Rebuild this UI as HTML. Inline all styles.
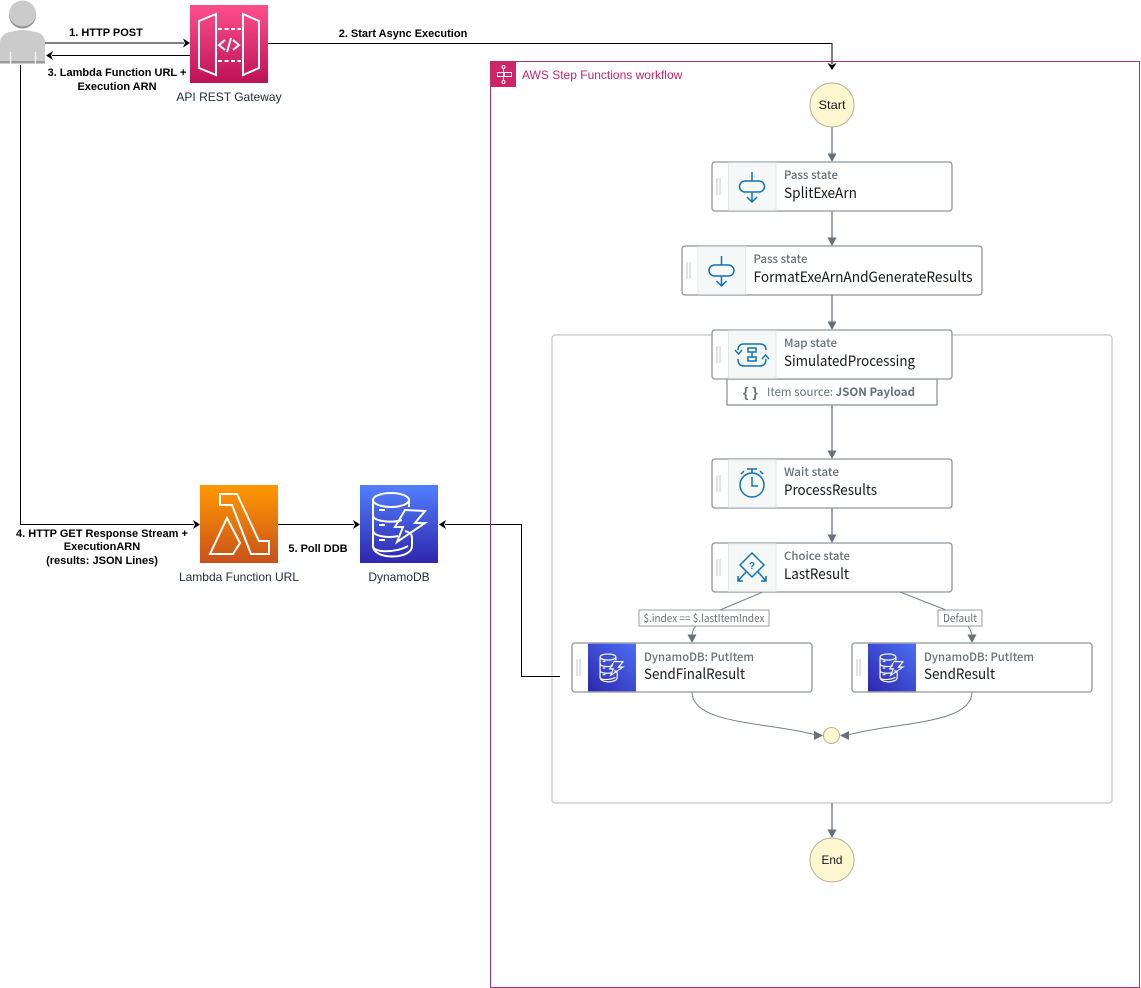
<!DOCTYPE html>
<html><head><meta charset="utf-8"><title>Step Functions diagram</title>
<style>
html,body{margin:0;padding:0;background:#fff;width:1141px;height:988px;overflow:hidden}
svg{display:block}
text{font-family:"Liberation Sans",sans-serif}
.b{font-size:11px;font-weight:bold;fill:#000;text-anchor:middle}
.c{font-size:12px;fill:#232f3e;text-anchor:middle}
.k{font-family:"Noto Sans CJK JP","DejaVu Sans",sans-serif;font-size:11.5px;font-weight:500;fill:#687078}
.n{font-family:"Noto Sans CJK JP","DejaVu Sans",sans-serif;font-size:14.5px;fill:#16191f}
.e{font-family:"Noto Sans CJK JP","DejaVu Sans",sans-serif;font-size:10.5px;fill:#687078;text-anchor:middle}
.s{fill:#fff;stroke:#8f959c;stroke-width:1.3}
.p{fill:#f6f7f7;stroke:#e4e6e8;stroke-width:1}
.g{stroke:#c2c5c8;stroke-width:1.2;fill:none}
.l{stroke:#000;stroke-width:1;fill:none}
.f{stroke:#a0a4a8;stroke-width:2;fill:none}
.t{stroke:#79808a;stroke-width:1;fill:none}
.h{fill:#687078}
.ic{fill:none;stroke:#0f73bb;stroke-width:1.5}
.w{fill:none;stroke:#fff;stroke-width:2}
</style></head><body>
<svg width="1141" height="988" viewBox="0 0 1141 988" xmlns="http://www.w3.org/2000/svg">
<defs>
<linearGradient id="gw" x1="0" y1="1" x2="0" y2="0"><stop offset="0" stop-color="#bc1356"/><stop offset="1" stop-color="#ff4f8b"/></linearGradient>
<linearGradient id="la" x1="0" y1="1" x2="0" y2="0"><stop offset="0" stop-color="#c8511b"/><stop offset="1" stop-color="#f90"/></linearGradient>
<linearGradient id="db" x1="0" y1="1" x2="0" y2="0"><stop offset="0" stop-color="#2e27ad"/><stop offset="1" stop-color="#527fff"/></linearGradient>
<linearGradient id="db2" x1="0" y1="1" x2="1" y2="0"><stop offset="0" stop-color="#2e27ad"/><stop offset="1" stop-color="#4a70f5"/></linearGradient>
<g id="pass"><rect class="ic" x="-12.500" y="-6" width="25" height="11" rx="5.500"/><path class="ic" d="M0-15V-6M0 5V15M-5 10L0 15 5 10"/></g>
<g id="ddbi" fill="none" stroke="#fff">
<ellipse cx="391" cy="500" rx="18" ry="7"/>
<path d="M373 500V546C373 560 412 560 412 546V538C412 533 408 532 405 531M373 515C373 522 393 523 402 520M373 530C373 537 390 538 398 536M373 546C373 553 396 553 408 546M409 500V507"/>
<path d="M405 510L425 511 415 523H425L397 542 403 527H395Z"/>
<path d="M379 510H385M379 525H385M379 540H385"/>
</g>
</defs>

<!-- user -->
<ellipse cx="22.500" cy="15" rx="13.500" ry="13.500" fill="#8f8f8f"/>
<ellipse cx="22.500" cy="13.500" rx="13.500" ry="13" fill="#cbcbcb"/>
<path d="M0 63V43Q0 33 12 31.500Q18 30 22.500 30Q27 30 33 31.500Q45 33 45 43V63Z" fill="#cbcbcb"/>
<rect x="0" y="61" width="45" height="2.500" fill="#9b9b9b"/>
<path d="M10.500 52V64M35.500 52V64" stroke="#fff" stroke-width="1.200"/>

<!-- workflow frame -->
<rect x="490.500" y="61.500" width="649" height="926" fill="#fff" stroke="#b5306f" stroke-width="1"/>
<rect x="491" y="62" width="25" height="25" fill="#cf2467"/>
<g fill="none" stroke="#fff" stroke-width="1"><rect x="497.500" y="72.500" width="6" height="4"/><rect x="504.500" y="72.500" width="7" height="4"/><circle cx="503.500" cy="67" r="1.500"/><circle cx="503.500" cy="82" r="1.500"/><path d="M503.500 68.500V72M503.500 77V80.500"/></g>
<text x="522" y="79" font-size="12" fill="#c4246d">AWS Step Functions workflow</text>

<!-- map container -->
<rect x="552" y="335" width="560" height="468" rx="3" fill="#fff" class="g"/>

<!-- flow connectors -->
<path class="f" d="M832 127V155M832 211V239M832 295V323M832 405V452M832 508V536M832 803V832"/>
<g class="h">
<path d="M827.500 153.500H836.500L832 162Z"/><path d="M827.500 237.500H836.500L832 246Z"/><path d="M827.500 321.500H836.500L832 330Z"/><path d="M827.500 450.500H836.500L832 459Z"/><path d="M827.500 534.500H836.500L832 543Z"/><path d="M827.500 829.500H836.500L832 838Z"/>
<path d="M687.500 634.500H696.500L692 643Z"/><path d="M967.500 634.500H976.500L972 643Z"/>
<path d="M814 731L823 735.500L814 740Z"/><path d="M849 731L840 735.500L849 740Z"/>
</g>
<path class="t" d="M763 592L720 610M696 626Q692 630 692 636M900 592L946 610M968 626Q971 630 972 636"/>
<path class="t" d="M692 692C692 725 770 722 816 735M972 692C972 725 893 722 848 735"/>

<!-- states -->
<rect class="s" x="712" y="162" width="240" height="49" rx="3"/><rect class="p" x="728.500" y="162.700" width="47.500" height="47.600"/>
<use href="#pass" x="752" y="187"/>
<text class="k" x="784" y="179" textLength="54" lengthAdjust="spacingAndGlyphs">Pass state</text><text class="n" x="784" y="198" textLength="73" lengthAdjust="spacingAndGlyphs">SplitExeArn</text>

<rect class="s" x="682" y="246" width="300" height="49" rx="3"/><rect class="p" x="698" y="246.700" width="47.500" height="47.600"/>
<use href="#pass" x="721.500" y="271"/>
<text class="k" x="753.500" y="263" textLength="54" lengthAdjust="spacingAndGlyphs">Pass state</text><text class="n" x="753.500" y="282" textLength="219" lengthAdjust="spacingAndGlyphs">FormatExeArnAndGenerateResults</text>

<rect class="s" x="727" y="379" width="210" height="26"/>
<text x="743" y="397" font-size="14" font-weight="bold" fill="#687078">{ }</text>
<text class="k" x="767" y="396" style="font-weight:400" textLength="148" lengthAdjust="spacingAndGlyphs">Item source: <tspan font-weight="bold">JSON Payload</tspan></text>

<rect class="s" x="712" y="330" width="240" height="49" rx="3"/><rect class="p" x="728.500" y="330.700" width="47.500" height="47.600"/>
<g class="ic"><path d="M738 350Q738 344 744 344H760Q766 344 766 350M766 359Q766 366 760 366H744Q738 366 738 359"/><path d="M735 350L738.500 354 742 350M762 359L765.500 355 769 359"/><rect x="748" y="348" width="8" height="4"/><rect x="748" y="357" width="8" height="4"/><path d="M752 352V357"/></g>
<text class="k" x="784" y="347" textLength="53" lengthAdjust="spacingAndGlyphs">Map state</text><text class="n" x="784" y="366" textLength="131" lengthAdjust="spacingAndGlyphs">SimulatedProcessing</text>

<rect class="s" x="712" y="459" width="240" height="49" rx="3"/><rect class="p" x="728.500" y="459.700" width="47.500" height="47.600"/>
<g class="ic"><circle cx="752" cy="485" r="12"/><path d="M752 477V486H758M752 473V469M747 469H757M741 474L744 471M763 474L760 471"/></g>
<text class="k" x="784" y="476" textLength="55" lengthAdjust="spacingAndGlyphs">Wait state</text><text class="n" x="784" y="495" textLength="93" lengthAdjust="spacingAndGlyphs">ProcessResults</text>

<rect class="s" x="712" y="543" width="240" height="49" rx="3"/><rect class="p" x="728.500" y="543.700" width="47.500" height="47.600"/>
<g class="ic"><path d="M752 553L764 565 752 577 740 565Z"/><path d="M746 572L738 581M738 576V581H743M758 572L766 581M766 576V581H761"/></g>
<text x="752" y="569" font-size="10" font-weight="bold" fill="#0f73bb" text-anchor="middle">?</text>
<text class="k" x="784" y="560" textLength="66" lengthAdjust="spacingAndGlyphs">Choice state</text><text class="n" x="784" y="579" textLength="65" lengthAdjust="spacingAndGlyphs">LastResult</text>

<rect class="s" x="572" y="643" width="240" height="49" rx="3"/><rect x="588" y="643.700" width="48" height="47.600" fill="url(#db2)"/>
<use href="#ddbi" transform="translate(611.500 668) scale(.44) translate(-399 -525)" stroke-width="2.700"/>
<text class="k" x="644" y="661" textLength="110" lengthAdjust="spacingAndGlyphs">DynamoDB: PutItem</text><text class="n" x="644" y="679" textLength="101" lengthAdjust="spacingAndGlyphs">SendFinalResult</text>

<rect class="s" x="852" y="643" width="240" height="49" rx="3"/><rect x="868" y="643.700" width="48" height="47.600" fill="url(#db2)"/>
<use href="#ddbi" transform="translate(891.500 668) scale(.44) translate(-399 -525)" stroke-width="2.700"/>
<text class="k" x="924" y="661" textLength="110" lengthAdjust="spacingAndGlyphs">DynamoDB: PutItem</text><text class="n" x="924" y="679" textLength="71" lengthAdjust="spacingAndGlyphs">SendResult</text>

<!-- drag handles -->
<path d="M717 178V195M720 178V195M687 262V279M690 262V279M717 346V363M720 346V363M717 475V492M720 475V492M717 559V576M720 559V576M577 659V676M580 659V676M857 659V676M860 659V676" stroke="#c4c7ca" stroke-width="1" fill="none"/>

<!-- edge labels -->
<rect x="639" y="610" width="130" height="16" fill="#fff" stroke="#9a9ea3"/>
<text class="e" x="704" y="622" textLength="121" lengthAdjust="spacingAndGlyphs">$.index == $.lastItemIndex</text>
<rect x="938" y="610" width="44" height="16" fill="#fff" stroke="#9a9ea3"/>
<text class="e" x="960" y="622" textLength="34" lengthAdjust="spacingAndGlyphs">Default</text>

<!-- terminals -->
<circle cx="832" cy="105" r="22" fill="#fff7cf" stroke="#b5b39b"/>
<text x="832" y="109" font-size="12" font-weight="500" text-anchor="middle" fill="#16191f" font-family="Noto Sans CJK JP, sans-serif" textLength="27" lengthAdjust="spacingAndGlyphs">Start</text>
<circle cx="832" cy="860" r="22" fill="#fff7cf" stroke="#b5b39b"/>
<text x="832" y="864" font-size="12" text-anchor="middle" fill="#16191f" font-family="Noto Sans CJK JP, sans-serif" textLength="21" lengthAdjust="spacingAndGlyphs">End</text>
<circle cx="831.500" cy="735.500" r="8" fill="#fff7cf" stroke="#b5b39b"/>

<!-- gateway -->
<rect x="190" y="5" width="78" height="78" fill="url(#gw)"/>
<g class="w"><path d="M199 21L216 14V75L199 68ZM259 21L243 14V75L259 68Z"/><path d="M218 29H241M218 61H241" stroke-dasharray="4 2.500"/><path d="M225 40L219 45 225 50M233 40L239 45 233 50M231 38L227 52"/></g>

<!-- lambda -->
<rect x="200" y="485" width="78" height="78" fill="url(#la)"/>
<path class="w" d="M220 494H237L259 541H269V554H251L232 505H220ZM227 518L240 543 233 554H210Z"/>

<!-- dynamo -->
<rect x="360" y="485" width="78" height="78" fill="url(#db)"/>
<use href="#ddbi" stroke-width="2"/>

<!-- black connectors -->
<path d="M45 43H184" stroke="#333" stroke-width="1.200" fill="none"/><path d="M183 38.500L190 43 183 47.500 185 43Z"/>
<path class="l" d="M190 55.500H52"/><path d="M53 51L46 55.500 53 60 51 55.500Z"/>
<path class="l" d="M268 43.500H832V64"/><path d="M827.500 63L832 70 836.500 63 832 65Z"/>
<path class="l" d="M20.500 65V524.500H194"/><path d="M193 520L200 524.500 193 529 195 524.500Z"/>
<path class="l" d="M278 524.500H354"/><path d="M353 520L360 524.500 353 529 355 524.500Z"/>
<path class="l" d="M560 676.500H521.500V524.500H445"/><path d="M446 520L439 524.500 446 529 444 524.500Z"/>

<!-- labels -->
<text class="b" x="106" y="36">1. HTTP POST</text>
<text class="b" x="403" y="37">2. Start Async Execution</text>
<text class="b" x="117" y="76">3. Lambda Function URL +</text>
<text class="b" x="117" y="90">Execution ARN</text>
<text class="b" x="102" y="537">4. HTTP GET Response Stream +</text>
<text class="b" x="102" y="550">ExecutionARN</text>
<text class="b" x="102" y="564">(results: JSON Lines)</text>
<text class="b" x="318" y="552">5. Poll DDB</text>
<text class="c" x="229" y="101">API REST Gateway</text>
<text class="c" x="239" y="581">Lambda Function URL</text>
<text class="c" x="399" y="581">DynamoDB</text>
</svg>
</body></html>
